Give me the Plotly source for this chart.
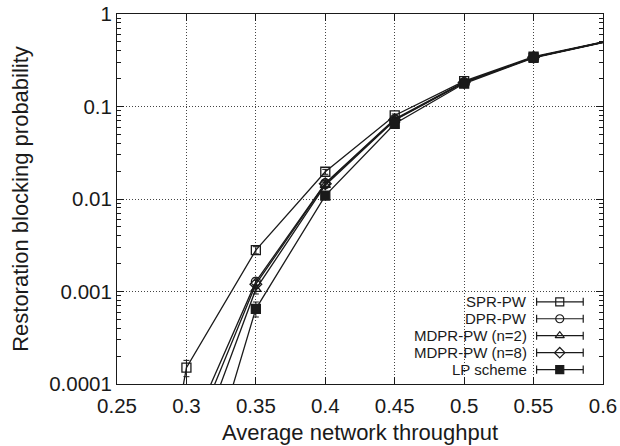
import plotly.graph_objects as go

# ---- data ----
x_vals = [0.25, 0.3, 0.35, 0.4, 0.45, 0.5, 0.55, 0.65]
spr = [1e-8, 0.00015, 0.0028, 0.0197, 0.080, 0.188, 0.345, 0.72]
spr_err = [0, 0.00003, 0.00025, 0.0012, 0.003, 0.006, 0.008, 0]
x_vals2 = [0.3, 0.35, 0.4, 0.45, 0.5, 0.55, 0.65]
dpr = [2.5e-5, 0.00128, 0.0148, 0.073, 0.183, 0.34, 0.72]
dpr_err = [0, 0.00012, 0.001, 0.003, 0.006, 0.008, 0]
mdpr2 = [1.0e-5, 0.00106, 0.0141, 0.071, 0.181, 0.34, 0.72]
mdpr2_err = [0, 0.00012, 0.001, 0.003, 0.006, 0.008, 0]
mdpr8 = [1.8e-5, 0.00120, 0.0146, 0.072, 0.182, 0.34, 0.72]
mdpr8_err = [0, 0.00012, 0.001, 0.003, 0.006, 0.008, 0]
lp = [2e-6, 0.00065, 0.0109, 0.065, 0.177, 0.335, 0.72]
lp_err = [0, 0.00012, 0.0008, 0.003, 0.006, 0.008, 0]

names = ["SPR-PW", "DPR-PW", "MDPR-PW (n=2)", "MDPR-PW (n=8)", "LP scheme"]
symbols = ["square-open", "circle-open", "triangle-up-open", "diamond-open", "square"]
series = [(x_vals, spr, spr_err), (x_vals2, dpr, dpr_err), (x_vals2, mdpr2, mdpr2_err),
          (x_vals2, mdpr8, mdpr8_err), (x_vals2, lp, lp_err)]

x_ticks = [0.25, 0.3, 0.35, 0.4, 0.45, 0.5, 0.55, 0.6]
x_ticktext = ["0.25", "0.3", "0.35", "0.4", "0.45", "0.5", "0.55", "0.6"]
y_ticks = [1e-4, 1e-3, 1e-2, 1e-1, 1]
y_ticktext = ["0.0001", "0.001", "0.01", "0.1", "1"]

FONT = "Liberation Sans, Arial, Helvetica, sans-serif"
INK = "#1a1a1a"

fig = go.Figure()
for (xs, ys, es), nm, sym in zip(series, names, symbols):
    fig.add_trace(go.Scatter(
        x=xs, y=ys, mode="lines+markers", name=nm, showlegend=False,
        line=dict(color=INK, width=1.3),
        marker=dict(symbol=sym, size=9, color=INK, line=dict(color=INK, width=1.3)),
        error_y=dict(type="data", array=es, visible=True, color=INK, thickness=1, width=3),
        cliponaxis=True,
    ))

# ---- manual legend (text on left, sample on right as in the reference) ----
# plot area: 370.8 px tall, bottom at 384.4 px
leg_px = [302, 319, 336, 353, 370]
leg_y = [(384.4 - p) / 370.8 for p in leg_px]
leg_text_x = 0.848
leg_x0, leg_x1, leg_xm = 0.8634, 0.9593, 0.911
for nm, yy in zip(names, leg_y):
    fig.add_annotation(x=leg_text_x, y=yy, xref="paper", yref="paper", text=nm,
                       showarrow=False, xanchor="right", yanchor="middle",
                       font=dict(family=FONT, size=15, color=INK))
    fig.add_shape(type="line", xref="paper", yref="paper", x0=leg_x0, x1=leg_x1, y0=yy, y1=yy,
                  line=dict(color=INK, width=1.2))
    for xc in (leg_x0, leg_x1):
        fig.add_shape(type="line", xref="paper", yref="paper", x0=xc, x1=xc,
                      y0=yy - 0.011, y1=yy + 0.011, line=dict(color=INK, width=1.2))
fig.add_trace(go.Scatter(
    x=[leg_xm] * 5, y=leg_y, mode="markers", xaxis="x2", yaxis="y2", showlegend=False,
    marker=dict(symbol=symbols, size=8, color=INK, line=dict(color=INK, width=1.2)),
    hoverinfo="skip",
))

axis_common = dict(showline=True, linecolor=INK, linewidth=1, mirror="ticks",
                   ticks="inside", tickcolor=INK, ticklen=7, tickwidth=1, automargin=False,
                   showgrid=True, gridcolor="#444444", griddash="1px,2px", gridwidth=1,
                   zeroline=False, tickfont=dict(family=FONT, size=20.5, color=INK))

fig.update_layout(
    width=620, height=446,
    margin=dict(l=117, r=17, t=14, b=62, autoexpand=False),
    paper_bgcolor="white", plot_bgcolor="white",
    xaxis=dict(range=[0.25, 0.6], tickvals=x_ticks, ticktext=x_ticktext, ticklabelstandoff=3,
               title=dict(text="Average network throughput", font=dict(family=FONT, size=22, color=INK), standoff=9),
               **axis_common),
    yaxis=dict(type="log", range=[-4, 0], tickvals=y_ticks, ticktext=y_ticktext,
               minor=dict(ticks="inside", ticklen=4, tickcolor=INK, dtick="D1", showgrid=False),
               title=dict(text="Restoration blocking probability", font=dict(family=FONT, size=22, color=INK), standoff=14),
               **axis_common),
    xaxis2=dict(overlaying="x", range=[0, 1], visible=False, domain=[0, 1]),
    yaxis2=dict(overlaying="y", range=[0, 1], visible=False),
    showlegend=False,
)

fig.write_html("out.html")
